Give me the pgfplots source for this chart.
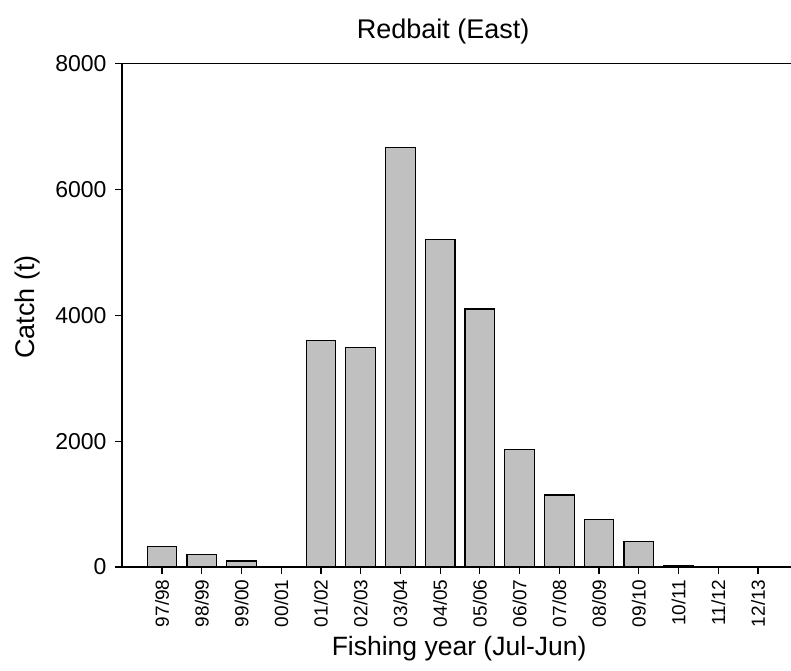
\documentclass[border=0pt]{standalone}
\usepackage{fontspec}
\setmainfont{Liberation Sans}
\usepackage{pgfplots}
\pgfplotsset{compat=1.18}
\definecolor{barfill}{RGB}{192,192,192}
\begin{document}
\begin{tikzpicture}
\path[use as bounding box] (-122pt,-103pt) rectangle (669pt,567pt);
\begin{axis}[
  at={(0pt,0pt)}, anchor=south west,
  scale only axis,
  width=669pt, height=503.5pt,
  xmin=-1.007, xmax=15.83,
  ymin=0, ymax=8000,
  axis x line=box, axis y line=left,
  axis line style={-, black, line width=1.2pt},
  xtick pos=bottom, ytick pos=left,
  tick align=outside,
  major tick length=7pt,
  every tick/.style={black, line width=1.2pt},
  xtick={0,...,15},
  xticklabels={97/98,98/99,99/00,00/01,01/02,02/03,03/04,04/05,05/06,06/07,07/08,08/09,09/10,10/11,11/12,12/13},
  xticklabel style={rotate=90, anchor=east, font=\fontsize{19}{21}\selectfont, xshift=-2pt},
  ytick={0,2000,4000,6000,8000},
  yticklabel style={font=\fontsize{23}{26}\selectfont, xshift=-5pt},
  /pgf/number format/assume math mode=true,
  /pgf/number format/1000 sep={},
  ylabel={Catch (t)},
  ylabel style={at={(axis description cs:-0.141,0.516)}, anchor=center, font=\fontsize{27}{30}\selectfont},
  xlabel={Fishing year (Jul-Jun)},
  xlabel style={at={(axis description cs:0.504,-0.163)}, anchor=center, font=\fontsize{26.5}{30}\selectfont},
  title={Redbait (East)},
  title style={at={(axis description cs:0.48,1.052)}, anchor=center, font=\fontsize{27}{30}\selectfont},
  clip=false,
]
\addplot[ybar, bar width=29.6pt, fill=barfill, draw=black, line width=1.2pt]
  coordinates {(0,320) (1,205) (2,95) (3,0) (4,3600) (5,3490) (6,6670) (7,5205) (8,4100) (9,1870) (10,1145) (11,760) (12,410) (13,20) (14,0) (15,0)};
\end{axis}
\end{tikzpicture}
\end{document}
